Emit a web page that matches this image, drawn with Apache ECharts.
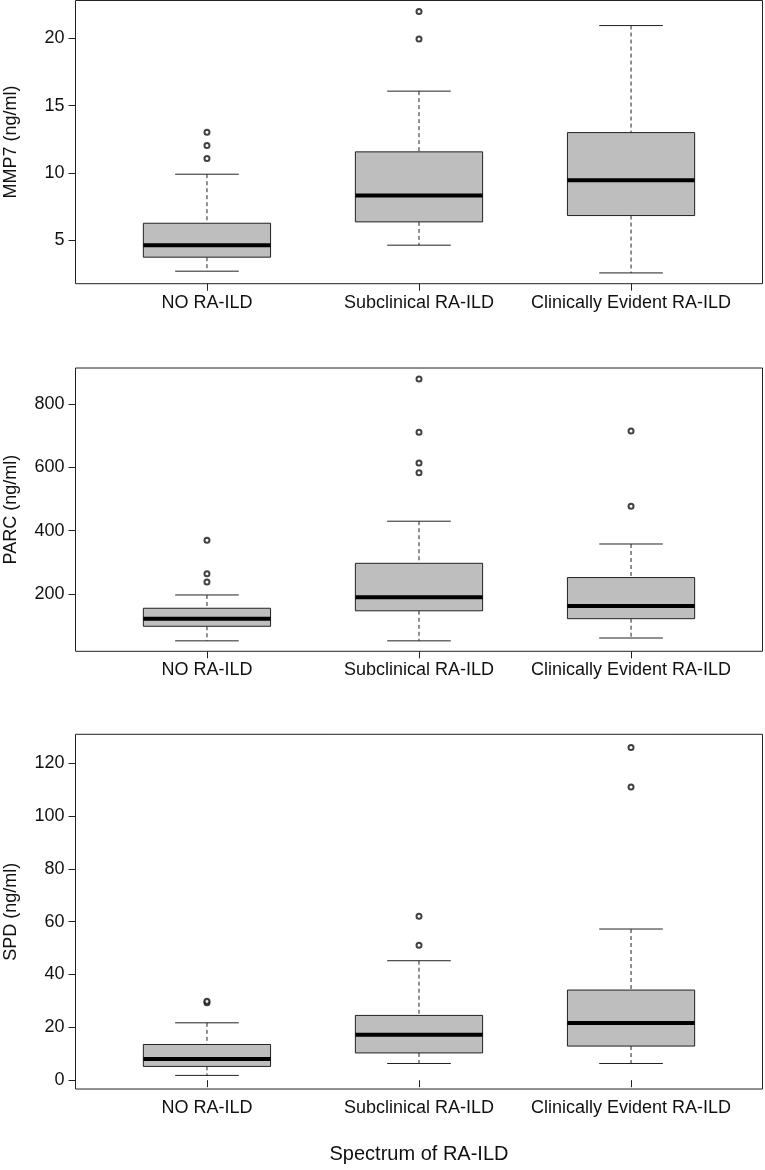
<!DOCTYPE html>
<html>
<head>
<meta charset="utf-8">
<script src="https://cdn.jsdelivr.net/npm/echarts@6/dist/echarts.min.js"></script>
<style>
html,body{margin:0;padding:0;background:#fff;}
#chart{width:765px;height:1170px;}
</style>
</head>
<body>
<div id="chart"></div>
<script>
// ---------- data ----------
const categories = ['NO RA-ILD', 'Subclinical RA-ILD', 'Clinically Evident RA-ILD'];

// [lower whisker, Q1, median, Q3, upper whisker]
const mmp7Box = [
  [2.70, 3.74, 4.63, 6.26, 9.90],
  [4.63, 6.36, 8.32, 11.56, 16.07],
  [2.57, 6.83, 9.46, 12.99, 20.94]
];
// [category index, value]
const mmp7Outliers = [[0, 11.06], [0, 12.03], [0, 13.02], [1, 19.95], [1, 21.98]];

const parcBox = [
  [52, 98, 122, 155, 197],
  [52, 147, 190, 297, 430],
  [61, 122, 162, 252, 358]
];
const parcOutliers = [[0, 238], [0, 264], [0, 370], [1, 583], [1, 614], [1, 711], [1, 879], [2, 477], [2, 715]];

const spdBox = [
  [1.8, 5.2, 8.0, 13.5, 21.7],
  [6.3, 10.3, 17.2, 24.5, 45.2],
  [6.3, 12.9, 21.6, 34.1, 57.2]
];
const spdOutliers = [[0, 29.3], [0, 29.9], [1, 51.1], [1, 62.0], [2, 111.0], [2, 125.9]];

const mmp7Ticks = [5, 10, 15, 20];
const parcTicks = [200, 400, 600, 800];
const spdTicks = [0, 20, 40, 60, 80, 100, 120];

const yTitles = ['MMP7 (ng/ml)', 'PARC (ng/ml)', 'SPD (ng/ml)'];
const xTitle = 'Spectrum of RA-ILD';

// ---------- chart ----------
const FONT = 'Liberation Sans, Arial, Helvetica, sans-serif';
const panels = [
  { box: mmp7Box, out: mmp7Outliers, ticks: mmp7Ticks, min: 1.77, max: 22.8, top: 0.5, height: 283.2 },
  { box: parcBox, out: parcOutliers, ticks: parcTicks, min: 19, max: 914, top: 368, height: 283.3 },
  { box: spdBox, out: spdOutliers, ticks: spdTicks, min: -3.35, max: 130.9, top: 734.3, height: 354.7 }
];
const catPos = categories.map((c, i) => i + 1);

function renderBox(params, api) {
  const x = api.value(0);
  const lo = api.coord([x, api.value(1)]);
  const q1 = api.coord([x, api.value(2)]);
  const med = api.coord([x, api.value(3)]);
  const q3 = api.coord([x, api.value(4)]);
  const hi = api.coord([x, api.value(5)]);
  const unit = api.size([1, 0])[0];
  const hw = unit * 0.3, cw = unit * 0.15;
  const cx = lo[0];
  const dashed = { stroke: '#222', lineWidth: 1, lineDash: [4, 3] };
  const solid = { stroke: '#222', lineWidth: 1 };
  return {
    type: 'group',
    children: [
      { type: 'line', shape: { x1: cx, y1: hi[1], x2: cx, y2: q3[1] }, style: dashed },
      { type: 'line', shape: { x1: cx, y1: q1[1], x2: cx, y2: lo[1] }, style: dashed },
      { type: 'line', shape: { x1: cx - cw, y1: hi[1], x2: cx + cw, y2: hi[1] }, style: solid },
      { type: 'line', shape: { x1: cx - cw, y1: lo[1], x2: cx + cw, y2: lo[1] }, style: solid },
      { type: 'rect', shape: { x: cx - hw, y: q3[1], width: 2 * hw, height: q1[1] - q3[1] },
        style: { fill: '#bebebe', stroke: '#222', lineWidth: 1 } },
      { type: 'line', shape: { x1: cx - hw, y1: med[1], x2: cx + hw, y2: med[1] },
        style: { stroke: '#000', lineWidth: 4 } }
    ]
  };
}

const grid = [], xAxis = [], yAxis = [], series = [];
panels.forEach((p, i) => {
  grid.push({ left: 75.5, top: p.top, width: 687, height: p.height, show: true,
    containLabel: false, outerBoundsMode: 'none',
    borderColor: '#222', borderWidth: 1, backgroundColor: 'transparent' });
  xAxis.push({
    type: 'value', gridIndex: i, min: 0.38, max: 3.62,
    axisLine: { show: false }, splitLine: { show: false },
    axisTick: { show: true, inside: false, length: 7, customValues: catPos, lineStyle: { color: '#222' } },
    axisLabel: { customValues: catPos, margin: 10, color: '#111', fontFamily: FONT, fontSize: 18,
      formatter: v => categories[Math.round(v) - 1] || '' },
    name: i === 2 ? xTitle : '', nameLocation: 'middle', nameGap: 55,
    nameTextStyle: { fontFamily: FONT, fontSize: 20, color: '#111' }
  });
  yAxis.push({
    type: 'value', gridIndex: i, min: p.min, max: p.max,
    axisLine: { show: false }, splitLine: { show: false },
    axisTick: { show: true, inside: false, length: 7, customValues: p.ticks, lineStyle: { color: '#222' } },
    axisLabel: { customValues: p.ticks, margin: 11, color: '#111', fontFamily: FONT, fontSize: 18 },
    name: yTitles[i], nameLocation: 'middle', nameRotate: 90, nameGap: 55,
    nameTextStyle: { fontFamily: FONT, fontSize: 18, color: '#111' }
  });
  series.push({
    type: 'custom', xAxisIndex: i, yAxisIndex: i,
    renderItem: renderBox,
    encode: { x: 0, y: [1, 2, 3, 4, 5] },
    data: p.box.map((b, k) => [catPos[k]].concat(b)),
    silent: true, animation: false
  });
  series.push({
    type: 'scatter', xAxisIndex: i, yAxisIndex: i,
    symbol: 'emptyCircle', symbolSize: 5,
    itemStyle: { color: '#111', borderWidth: 0.8 },
    data: p.out.map(o => [catPos[o[0]], o[1]]),
    silent: true, animation: false, z: 5
  });
});

const chart = echarts.init(document.getElementById('chart'), null, { renderer: 'canvas' });
chart.setOption({ backgroundColor: '#fff', animation: false, grid, xAxis, yAxis, series });
</script>
</body>
</html>
